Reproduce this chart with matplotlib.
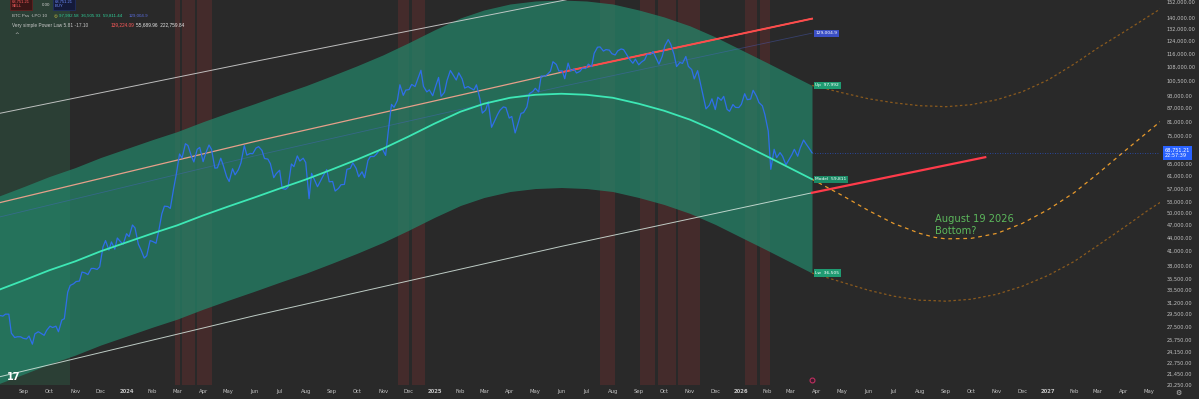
import numpy as np
import matplotlib
matplotlib.use('Agg')
import matplotlib.pyplot as plt

BG = '#292929'

# ---------------- data ----------------
price_start = np.datetime64('2023-08-03')
# weekly Thursday values
thu_values = [
    29200, 29400, 26600, 26100, 25900, 26200, 26500, 26600, 27000, 27400, 26800, 28700, 34200,
    34900, 36700, 36200, 37400, 37700, 43300, 43000, 43900, 42500,
    44200, 46300, 41300, 40000, 43100, 45300, 51900, 51300, 61200, 66900, 71400, 65500, 70700,
    68500, 70000, 63500, 64300, 59100, 61200, 65200, 67900, 68400, 71000, 66700, 64900, 61600,
    57000, 57400, 63900, 65800, 65300, 61700, 57500, 61000, 59000, 56200, 58100, 63000, 65200,
    60600, 60300, 67400, 68200, 70200, 76400, 87300, 98300, 95600, 98500, 101000, 97500, 95700,
    96900, 92500, 100500, 103700, 104700, 96600, 96600, 98300, 84700, 89900, 80800, 86000, 87200,
    83200, 79600, 84900, 93900, 96500, 103000, 103700, 111000, 105700, 101500, 105700, 104600,
    107300, 109600, 116000, 120000, 118300, 115800, 117500, 118300, 112500, 112500, 110700,
    115500, 117100, 109600, 120600, 121700, 108200, 110000, 108300, 101400, 99700, 86600, 91300,
    92100, 92500, 85500, 87300,
    88700, 90900, 95500, 89500, 84000, 63000, 67000, 67500, 66000, 70000, 70500, 72000, 68751.21,
]
# Monday values (4 days after each Thursday)
mon_values = [
    29100, 29400, 26000, 26100, 25800, 25100, 26800, 26300, 27600, 27600, 28500, 33000, 34500,
    35000, 36500, 37400, 37200, 41900, 41200, 41400, 43000,
    44900, 47000, 42500, 39500, 43300, 42700, 49900, 51800, 57000, 68300, 72100, 67600, 70000,
    65600, 71600, 63400, 66800, 60600, 63200, 62900, 71400, 68500, 70500, 69600, 66500, 60300,
    62700, 56700, 64800, 67600, 66800, 54000, 59300, 59500, 62900, 59100, 57000, 58200, 63300,
    63300, 62200, 66000, 67400, 69900, 67800, 88700, 90500, 93000, 95900, 97400, 106100, 94700,
    92800,
    102200, 94500, 106000, 100800, 101400, 97400, 95700, 91500, 86100, 78600, 84000, 87500,
    82500, 76300, 84600, 87500, 94900, 94700, 102800, 105600, 109400, 105800, 110200, 106800,
    105500, 107100, 108200, 119800, 117400, 118000, 115000, 118700, 115000, 110100, 109200,
    112100, 115300, 112700, 114300, 124700, 115200, 110600, 114100, 106500, 105900, 92200, 88300,
    86300, 90600, 86400, 88600, 87200,
    93800, 91200, 92600, 88000, 77000, 70000, 68800, 64500, 68000, 67500, 73500, 70200,
]
last_price = 68751.21

model_dates = ['2023-08-01', '2023-09-01', '2023-10-01', '2023-11-01', '2023-12-01',
               '2024-01-01', '2024-02-01', '2024-03-01', '2024-04-01', '2024-05-01',
               '2024-06-01', '2024-07-01', '2024-08-01', '2024-09-01', '2024-10-01',
               '2024-11-01', '2024-12-01', '2025-01-01', '2025-02-01', '2025-03-01',
               '2025-04-01', '2025-05-01', '2025-06-01', '2025-07-01', '2025-08-01',
               '2025-09-01', '2025-10-01', '2025-11-01', '2025-12-01', '2026-01-01',
               '2026-02-01', '2026-03-01', '2026-03-26']
model_values = [33350, 35140, 37030, 38820, 40920, 42900, 44980, 46900, 49430, 51820,
                54320, 56950, 59710, 62930, 66320, 70260, 74830, 80120, 85330, 88980,
                91830, 93280, 93780, 93280, 91830, 88980, 85780, 81820, 77220, 72120,
                67370, 63260, 59811.44]
upper_values = [54627, 57559, 60655, 63587, 67027, 70270, 73677, 76822, 80966, 84881,
                88976, 93284, 97805, 103079, 108632, 115086, 122572, 131237, 139771, 145749,
                150418, 152793, 153612, 152793, 150418, 145749, 140508, 134021, 126486, 118133,
                110352, 103620, 97992.58]
lower_values = [20360, 21453, 22607, 23700, 24982, 26190, 27460, 28632, 30177, 31636,
                33162, 34768, 36453, 38419, 40488, 42894, 45684, 48913, 52094, 54322,
                56062, 56947, 57253, 56947, 56062, 54322, 52369, 49951, 47143, 44029,
                41129, 38620, 36505.93]

future_dates = ['2026-03-26', '2026-05-01', '2026-06-01', '2026-07-01', '2026-08-01',
                '2026-08-19', '2026-09-01', '2026-10-01', '2026-11-01', '2026-12-01',
                '2027-01-01', '2027-02-01', '2027-03-01', '2027-04-01', '2027-05-01',
                '2027-05-14']
future_model = [59811, 54900, 50740, 47390, 44980, 44040, 43700, 43800, 44980, 47390,
                51010, 55770, 61620, 69160, 77220, 80970]
future_upper = [97992, 94270, 91350, 89450, 88060, 87830, 87600, 88520, 90880, 94770,
                100930, 109770, 119400, 129860, 141230, 146510]
future_lower = [36506, 34770, 33350, 32320, 31640, 31560, 31480, 31800, 32650, 34050,
                36070, 38820, 42230, 46410, 51010, 52930]

pl_dates = ['2023-08-03', '2024-06-01', '2025-06-01', '2026-03-26']
pl_top = [84580, 111100, 153000, 200760]         # white upper line
pl_mid = [52860, 72900, 105000, 139224.09]       # salmon / red line
pl_blue = [49020, 67600, 97370, 129004.9]        # faint blue line
pl_low = [21145, 29160, 42000, 55689.96]         # white lower line
pl_low_proj_dates = ['2026-03-26', '2026-10-18']
pl_low_proj = [55689.96, 67160]
pl_mid_red_dates = ['2025-06-01', '2026-03-26']
pl_mid_red = [105000, 139224.09]

red_zones = [('2024-02-27', '2024-03-04'), ('2024-03-07', '2024-03-22'),
             ('2024-03-25', '2024-04-12'), ('2024-11-19', '2024-12-02'),
             ('2024-12-05', '2024-12-21'), ('2025-07-17', '2025-08-04'),
             ('2025-09-02', '2025-09-20'), ('2025-09-24', '2025-10-15'),
             ('2025-10-18', '2025-11-13'), ('2026-01-05', '2026-01-20'),
             ('2026-01-23', '2026-02-04')]
green_zones = [('2023-08-01', '2023-10-26')]

y_ticks = [152000, 140000, 132000, 124000, 116000, 108000, 100500, 93000, 87000, 81000,
           75000, 65000, 61000, 57000, 53000, 50000, 47000, 44000, 41000, 38000, 35500,
           33500, 31200, 29500, 27500, 25750, 24150, 22750, 21450, 20250]

x_labels = ['Sep', 'Oct', 'Nov', 'Dec',
            '2024', 'Feb', 'Mar', 'Apr', 'May', 'Jun', 'Jul', 'Aug', 'Sep', 'Oct', 'Nov', 'Dec',
            '2025', 'Feb', 'Mar', 'Apr', 'May', 'Jun', 'Jul', 'Aug', 'Sep', 'Oct', 'Nov', 'Dec',
            '2026', 'Feb', 'Mar', 'Apr', 'May', 'Jun', 'Jul', 'Aug', 'Sep', 'Oct', 'Nov', 'Dec',
            '2027', 'Feb', 'Mar', 'Apr', 'May']

# ---------------- figure ----------------
D = lambda lst: np.array(lst, dtype='datetime64[D]')

fig = plt.figure(figsize=(11.99, 3.99), dpi=100, facecolor=BG)
ax = fig.add_axes([0.0, 14 / 399, 1160 / 1199, 385 / 399])
ax.set_facecolor(BG)
ax.set_yscale('log')
ax.set_ylim(20350, 153600)
ax.set_xlim(np.datetime64('2023-08-03T12:00'), np.datetime64('2027-05-13T19:00'))
for s in ax.spines.values():
    s.set_visible(False)

# vertical zones
for a, b in red_zones:
    ax.axvspan(np.datetime64(a), np.datetime64(b), color='#6a2f2f', alpha=0.42, lw=0, zorder=1)
for a, b in green_zones:
    ax.axvspan(np.datetime64(a), np.datetime64(b), color='#2f5a45', alpha=0.45, lw=0, zorder=1)

# band
md = D(model_dates)
ax.fill_between(md, lower_values, upper_values, color='#24866a', alpha=0.72, lw=0, zorder=2)

# power law lines
pd_ = D(pl_dates)
ax.plot(pd_, pl_top, color='#d8d8d8', lw=0.7, alpha=0.85, zorder=3)
ax.plot(pd_, pl_blue, color='#4d63d0', lw=0.6, alpha=0.4, zorder=3)
ax.plot(pd_, pl_mid, color='#e6a08a', lw=0.9, zorder=3)
ax.plot(D(pl_mid_red_dates), pl_mid_red, color='#ff4a4a', lw=1.4, zorder=3)
ax.plot(pd_, pl_low, color='#d8e8e0', lw=0.7, alpha=0.85, zorder=3)
ax.plot(D(pl_low_proj_dates), pl_low_proj, color='#ff3b4a', lw=1.6, zorder=3)

# future projections
fd = D(future_dates)
ax.plot(fd, future_upper, color='#8a5a1e', lw=0.9, ls=(0, (2, 2)), zorder=3)
ax.plot(fd, future_lower, color='#8a5a1e', lw=0.9, ls=(0, (2, 2)), zorder=3)
ax.plot(fd, future_model, color='#e89a2c', lw=0.9, ls=(0, (3, 3)), zorder=3)

# price (Thursday + Monday samples merged in time order)
thu_dates = price_start + np.arange(len(thu_values)) * np.timedelta64(7, 'D')
mon_dates = price_start + np.timedelta64(4, 'D') + np.arange(len(mon_values)) * np.timedelta64(7, 'D')
all_dates = np.concatenate([thu_dates, mon_dates])
all_vals = np.concatenate([thu_values, mon_values])
order = np.argsort(all_dates)
ax.plot(all_dates[order], all_vals[order], color='#2f6fea', lw=0.9, zorder=4)
ax.plot([thu_dates[-1], np.datetime64('2027-05-14')], [last_price, last_price],
        color='#2962ff', lw=0.6, ls=(0, (1, 2)), alpha=0.7, zorder=3)

# model line
ax.plot(md, model_values, color='#3de8b5', lw=1.3, zorder=5)

# line labels
lab_x = np.datetime64('2026-03-30')
def tag(y, txt, fc):
    ax.text(lab_x, y, txt, fontsize=3.2, color='white', va='center', ha='left', zorder=7,
            bbox=dict(boxstyle='square,pad=0.35', fc=fc, ec='none'))
tag(pl_blue[-1], '129,004.9', '#3b4fc4')
tag(upper_values[-1], 'Up  97,992', '#1f9c72')
tag(model_values[-1], 'Model  59,811', '#1c8a66')
tag(lower_values[-1], 'Lw  36,505', '#1f9c72')

ax.text(np.datetime64('2026-08-19'), 49690, 'August 19 2026\nBottom?', fontsize=7.1,
        color='#5cb85c', va='top', ha='left', linespacing=1.15, zorder=7)

# y axis right
ax.yaxis.set_ticks_position('right')
ax.set_yticks(y_ticks, [f'{v:,.2f}' for v in y_ticks])
ax.yaxis.set_minor_locator(matplotlib.ticker.NullLocator())
ax.tick_params(axis='y', length=0, pad=5, labelsize=3.6, labelcolor='#c4c4c4')

ax.text(1.004, last_price, '68,751.21\n22:57:39', transform=ax.get_yaxis_transform(),
        fontsize=3.6, color='white', va='center', ha='left', linespacing=1.2, zorder=8,
        bbox=dict(boxstyle='square,pad=0.35', fc='#2962ff', ec='none'), clip_on=False)

# x axis
xt = np.arange(np.datetime64('2023-09'), np.datetime64('2027-06'), dtype='datetime64[M]')
ax.set_xticks(xt.astype('datetime64[D]'), x_labels)
ax.tick_params(axis='x', length=0, pad=3, labelsize=3.8, labelcolor='#c4c4c4')
for t in ax.get_xticklabels():
    if t.get_text().isdigit():
        t.set_fontweight('bold')

# marker icon near bottom at current date
ax.plot([np.datetime64('2026-03-26')], [0.013], marker='o', ms=3.5, mfc='#3a1a2a',
        mec='#c03060', mew=0.8, transform=ax.get_xaxis_transform(), clip_on=False, zorder=8)

# TradingView logo
ax.text(0.006, 0.012, '17', transform=ax.transAxes, fontsize=7, fontweight='bold',
        color='white', zorder=8)

# top-left toolbar & legend
LF = 'Liberation Sans'
fig.text(12 / 1199, 1 - 4 / 399, '68,751.21\nSELL', fontsize=3, color='#ff6060', va='center',
         ha='left', family=LF, bbox=dict(boxstyle='square,pad=0.4', fc='#3a1616', ec='#6a2020', lw=0.5))
fig.text(42 / 1199, 1 - 5 / 399, '0.00', fontsize=3.2, color='#d0d0d0', va='center', ha='left',
         family=LF)
fig.text(55 / 1199, 1 - 4 / 399, '68,751.21\nBUY', fontsize=3, color='#6f8fff', va='center',
         ha='left', family=LF, bbox=dict(boxstyle='square,pad=0.4', fc='#141a3a', ec='#20306a', lw=0.5))

fig.text(12 / 1199, 1 - 16 / 399, 'BTC Pss ·LPO 10', fontsize=3.2, color='#c8c8c8',
         va='center', family=LF)
fig.text(53.5 / 1199, 1 - 16 / 399, '◎', fontsize=3.2, color='#c8c040', va='center')
fig.text(59 / 1199, 1 - 16 / 399, '97,992.58  36,505.93  59,811.44', fontsize=3.2,
         color='#2fd29a', va='center', family=LF)
fig.text(129 / 1199, 1 - 16 / 399, '129,004.9', fontsize=3.2, color='#5a6ee0', va='center',
         family=LF)
fig.text(12 / 1199, 1 - 25 / 399, 'Very simple Power Law 5.81 -17.10', fontsize=3.4,
         color='#c8c8c8', va='center', family=LF)
fig.text(111 / 1199, 1 - 25 / 399, '139,224.09', fontsize=3.4, color='#ff5a5a', va='center',
         family=LF)
fig.text(136 / 1199, 1 - 25 / 399, '55,689.96  222,759.84', fontsize=3.4, color='#e8e8e8',
         va='center', family=LF)
fig.text(14 / 1199, 1 - 34 / 399, '^', fontsize=4, color='#c8c8c8', va='center')

fig.text(1178 / 1199, 6 / 399, '⚙', fontsize=5, color='#c4c4c4', va='center', ha='center')

fig.savefig('out.png', dpi=100, facecolor=BG)
